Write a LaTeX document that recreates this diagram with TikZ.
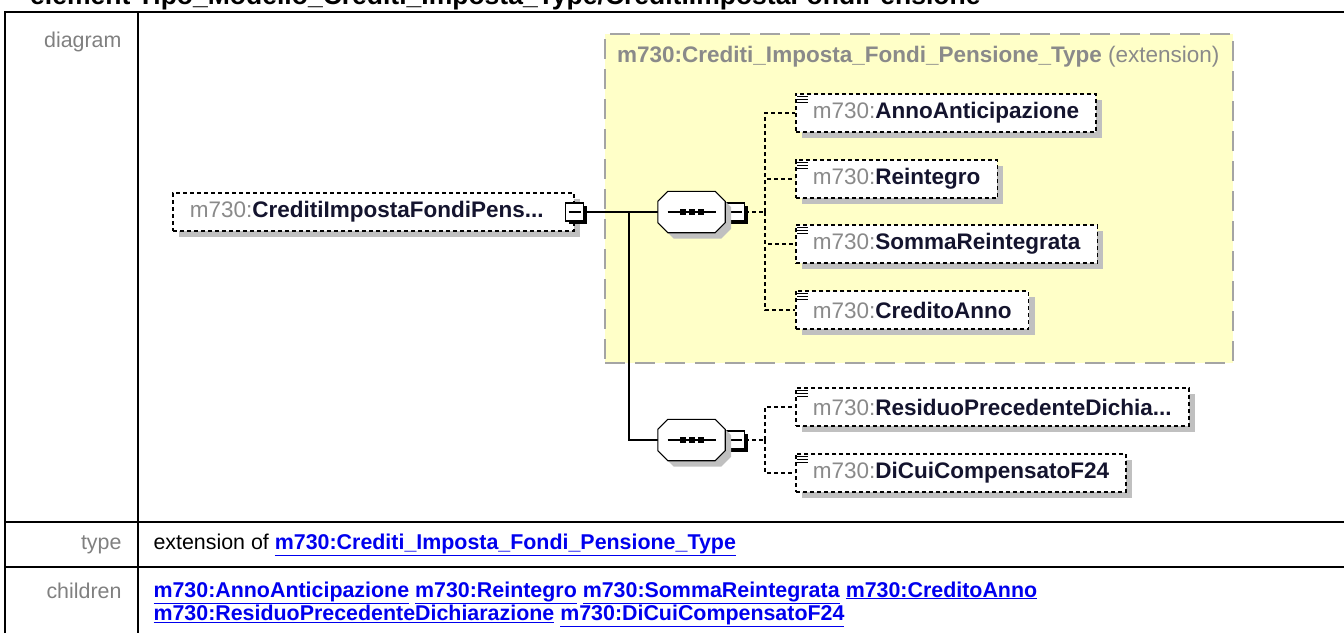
\documentclass[tikz,border=0pt]{standalone}
\usepackage{fontspec}
\setmainfont{Liberation Sans}
\usepackage{xcolor}
\usepackage{tikz}
\usetikzlibrary{shadows,positioning,calc}
\definecolor{pfxgray}{HTML}{8A8A8A}
\definecolor{namedark}{HTML}{14142E}
\definecolor{labelgray}{HTML}{808080}
\definecolor{extfill}{HTML}{FFFFC8}
\definecolor{extline}{HTML}{A4A4A4}
\definecolor{shadowgray}{HTML}{C0C0C0}
\definecolor{linkblue}{HTML}{0000EE}
\newcommand{\pfx}{\textcolor{pfxgray}{m730:}}
\newcommand{\elname}[1]{\pfx\textbf{\textcolor{namedark}{#1}}}
\newcommand{\lnk}[1]{\underline{\textbf{m730:#1}}}
\tikzset{
  elem/.style={draw, dash pattern=on 4pt off 3pt, line width=1.7pt, fill=white, inner xsep=17pt, inner ysep=0pt, minimum height=38pt, anchor=west, font=\fontsize{22.5}{26}\selectfont, drop shadow={shadow xshift=6pt, shadow yshift=-6pt, fill=shadowgray, opacity=1}},
  minusbox/.style={draw, line width=1.2pt, fill=white, minimum size=18pt, inner sep=0pt, drop shadow={shadow xshift=3pt, shadow yshift=-3pt, fill=black, opacity=1}, path picture={\draw[line width=1.2pt] ([xshift=3pt]path picture bounding box.west) -- ([xshift=-3pt]path picture bounding box.east);}},
  seqbox/.style={minimum width=67pt, minimum height=41pt, inner sep=0pt},
  octline/.style={draw, fill=white, line width=1.1pt, preaction={fill=shadowgray, transform canvas={shift={(6pt,-6pt)}}}},
  extbox/.style={draw=extline, fill=extfill, line width=2pt, dash pattern=on 20pt off 10pt, anchor=north west, inner sep=0pt},
  rowlabel/.style={anchor=east, text=labelgray, font=\fontsize{21.4}{22}\selectfont},
  celltext/.style={anchor=west, align=left, font=\fontsize{21.4}{22}\selectfont},
  conn/.style={line width=1.8pt},
  dconn/.style={line width=1.5pt, dash pattern=on 4pt off 3pt},
  tbl/.style={line width=2.5pt}
}
\begin{document}
\begin{tikzpicture}[x=1pt,y=-1pt]
  \useasboundingbox (0,0) rectangle (1344,633);
  % heading, cut by the page top
  \node[anchor=base west, inner sep=0pt, font=\fontsize{26.5}{30}\selectfont\bfseries] (heading) at (30,4) {element Tipo\_Modello\_Crediti\_Imposta\_Type/CreditiImpostaFondiPensione};

  % table frame
  \draw[tbl] (5,633) -- (5,12) -- (1344,12);
  \draw[tbl] (138,12) -- (138,633);
  \draw[tbl] (5,522) -- (1344,522);
  \draw[tbl] (5,567) -- (1344,567);

  \node[rowlabel] (lbldiagram) at (125,42) {diagram};
  \node[rowlabel] (lbltype) at (125,545) {type};
  \node[rowlabel] (lblchildren) at (125,591) {children};

  % extension area
  \node[extbox, minimum width=628, minimum height=329] (ext) at (604,33) {};
  \node[anchor=west, inner sep=0pt, text=pfxgray, font=\fontsize{22.5}{26}\selectfont] (exttitle) at (617,57) {\textbf{m730:Crediti\_Imposta\_Fondi\_Pensione\_Type} (extension)};

  % root element
  \node[elem, text width=367, align=left] (root) at (172,212) {\elname{CreditiImpostaFondiPens...}};
  \node[minusbox] (rootminus) at (root.east) {};

  % sequences
  \node[seqbox] (seqA) at (691.5,212) {};
  \node[seqbox] (seqB) at (691.5,440) {};
  \node[minusbox, anchor=west] (minusA) at ([xshift=1pt]seqA.east) {};
  \node[minusbox, anchor=west] (minusB) at ([xshift=1pt]seqB.east) {};

  % child elements
  \node[elem] (anno) at (795,113) {\elname{AnnoAnticipazione}};
  \node[elem] (reintegro) at (795,179) {\elname{Reintegro}};
  \node[elem] (somma) at (795,244) {\elname{SommaReintegrata}};
  \node[elem] (credito) at (795,310) {\elname{CreditoAnno}};
  \node[elem] (residuo) at (795,407) {\elname{ResiduoPrecedenteDichia...}};
  \node[elem] (dicui) at (795,473) {\elname{DiCuiCompensatoF24}};
  \foreach \c in {anno,reintegro,somma,credito,residuo,dicui}
    \foreach \k in {3,6,9}
      \draw[line width=1.1pt] ([shift={(2,\k)}]\c.north west) -- +(11,0);

  % connectors
  \coordinate (trunk) at (629,212);
  \coordinate (spineA) at (765,212);
  \coordinate (spineB) at (765,440);
  \draw[conn] (rootminus.east) -- (seqA.west);
  \draw[conn] (trunk) |- (seqB.west);
  \draw[dconn] (minusA.east) -- (spineA);
  \draw[dconn] (minusB.east) -- (spineB);
  \foreach \c in {anno,reintegro,somma,credito}
    \draw[dconn] (spineA) |- (\c.west);
  \foreach \c in {residuo,dicui}
    \draw[dconn] (spineB) |- (\c.west);

  % octagons of the sequences
  \foreach \s in {seqA,seqB}{
    \draw[octline] ([xshift=10pt]\s.north west) -- ([xshift=-10pt]\s.north east)
      -- ([yshift=-10pt]\s.north east) -- ([yshift=10pt]\s.south east)
      -- ([xshift=-10pt]\s.south east) -- ([xshift=10pt]\s.south west)
      -- ([yshift=10pt]\s.south west) -- ([yshift=-10pt]\s.north west) -- cycle;
    \draw[line width=1.4pt] ([xshift=-24]\s.center) -- ([xshift=24]\s.center);
    \foreach \d in {-9,0,9}
      \fill ([xshift=\d]\s.center) +(-3,-3) rectangle +(3,3);
  }

  % type and children rows
  \node[celltext] (typetext) at (150,545) {extension of \textcolor{linkblue}{\lnk{Crediti\_Imposta\_Fondi\_Pensione\_Type}}};
  \node[celltext, anchor=north west] (childtext) at (150,578) {\textcolor{linkblue}{\lnk{AnnoAnticipazione} \lnk{Reintegro} \lnk{SommaReintegrata} \lnk{CreditoAnno}}\\ \textcolor{linkblue}{\lnk{ResiduoPrecedenteDichiarazione} \lnk{DiCuiCompensatoF24}}};
\end{tikzpicture}
\end{document}
